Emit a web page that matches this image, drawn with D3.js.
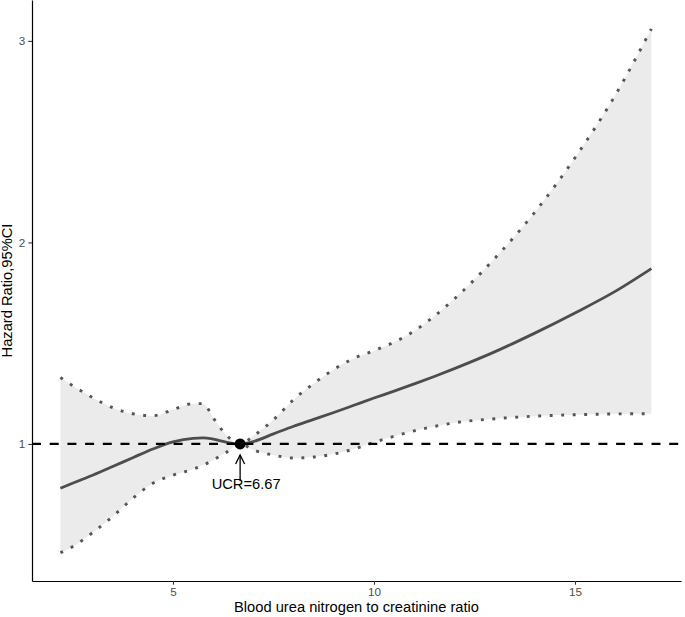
<!DOCTYPE html>
<html>
<head>
<meta charset="utf-8">
<script src="https://cdn.jsdelivr.net/npm/d3@7"></script>
<style>
  body { margin: 0; background: #fff; }
  text { font-family: "Liberation Sans", Arial, sans-serif; }
</style>
</head>
<body>
<div id="chart"></div>
<script>
// values
var ucr   = [2.2, 2.5, 3, 3.5, 4, 4.5, 5, 5.5, 5.75, 6, 6.3, 6.67, 7, 7.5, 8, 8.5, 9, 9.5, 10, 10.5, 11, 11.5, 12, 13, 14, 15, 16, 16.9];
var hr    = [0.78, 0.805, 0.845, 0.888, 0.932, 0.975, 1.01, 1.028, 1.03, 1.024, 1.01, 1.0, 1.012, 1.05, 1.088, 1.122, 1.156, 1.192, 1.228, 1.262, 1.298, 1.335, 1.374, 1.457, 1.55, 1.65, 1.757, 1.87];
var upper = [1.33, 1.29, 1.23, 1.18, 1.15, 1.14, 1.17, 1.20, 1.20, 1.13, 1.05, 1.0, 1.04, 1.12, 1.22, 1.30, 1.37, 1.425, 1.463, 1.505, 1.56, 1.634, 1.72, 1.92, 2.15, 2.42, 2.73, 3.06];
var lower = [0.46, 0.49, 0.56, 0.64, 0.73, 0.805, 0.845, 0.875, 0.895, 0.92, 0.955, 1.0, 0.97, 0.945, 0.93, 0.935, 0.95, 0.975, 1.008, 1.038, 1.065, 1.087, 1.105, 1.125, 1.138, 1.145, 1.149, 1.15];
var xTicks = [5, 10, 15];
var yTicks = [1, 2, 3];
var refX = 6.67;
var refY = 1;
var refLabel = "UCR=6.67";

var data = ucr.map(function(d, i) {
  return { x: d, hr: hr[i], lo: lower[i], hi: upper[i] };
});

var svgWidth = 685, svgHeight = 617;
var margin = { top: 0, right: 4, bottom: 36, left: 32 };
var width = svgWidth - margin.left - margin.right;
var height = svgHeight - margin.top - margin.bottom;

var svg = d3.select("#chart").append("svg")
  .attr("width", svgWidth)
  .attr("height", svgHeight);

var chartGroup = svg.append("g")
  .attr("transform", `translate(${margin.left}, ${margin.top})`);

var xScale = d3.scaleLinear().domain([1.493, 17.637]).range([0, width]);
var yScale = d3.scaleLinear().domain([0.32, 3.203]).range([height, 0]);

var curve = d3.curveMonotoneX;

// ribbon
var area = d3.area()
  .x(d => xScale(d.x))
  .y0(d => yScale(d.lo))
  .y1(d => yScale(d.hi))
  .curve(curve);

chartGroup.append("path")
  .datum(data)
  .attr("d", area)
  .attr("fill", "#ebebeb");

// CI bounds, dotted
["lo", "hi"].forEach(function(k) {
  chartGroup.append("path")
    .datum(data)
    .attr("d", d3.line().x(d => xScale(d.x)).y(d => yScale(d[k])).curve(curve))
    .attr("fill", "none")
    .attr("stroke", "#555555")
    .attr("stroke-width", 2.9)
    .attr("stroke-dasharray", "2.9,8.6");
});

// hazard ratio line
chartGroup.append("path")
  .datum(data)
  .attr("d", d3.line().x(d => xScale(d.x)).y(d => yScale(d.hr)).curve(curve))
  .attr("fill", "none")
  .attr("stroke", "#4d4d4d")
  .attr("stroke-width", 2.8);

// reference line at HR = 1
chartGroup.append("line")
  .attr("x1", 0).attr("x2", width)
  .attr("y1", yScale(refY)).attr("y2", yScale(refY))
  .attr("stroke", "#000")
  .attr("stroke-width", 2.2)
  .attr("stroke-dasharray", "9,8.7");

// reference point + arrow + label
var px = xScale(refX), py = yScale(refY);
chartGroup.append("circle")
  .attr("cx", px).attr("cy", py)
  .attr("r", 5.5)
  .attr("fill", "#000");

chartGroup.append("line")
  .attr("x1", px).attr("x2", px)
  .attr("y1", py + 11).attr("y2", py + 37)
  .attr("stroke", "#000")
  .attr("stroke-width", 1.3);

chartGroup.append("path")
  .attr("d", `M${px - 4.5},${py + 20} L${px},${py + 11} L${px + 4.5},${py + 20}`)
  .attr("fill", "none")
  .attr("stroke", "#000")
  .attr("stroke-width", 1.3);

chartGroup.append("text")
  .attr("x", px + 6)
  .attr("y", py + 45)
  .style("text-anchor", "middle")
  .style("font-size", "14.7px")
  .attr("fill", "#000")
  .text(refLabel);

// axes
var bottomAxis = d3.axisBottom(xScale).tickValues(xTicks).tickFormat(d3.format("d"))
  .tickSizeInner(3.7).tickSizeOuter(0).tickPadding(3);
var leftAxis = d3.axisLeft(yScale).tickValues(yTicks).tickFormat(d3.format("d"))
  .tickSizeInner(3.7).tickSizeOuter(0).tickPadding(3);

var xg = chartGroup.append("g")
  .attr("transform", `translate(0, ${height})`)
  .call(bottomAxis);
var yg = chartGroup.append("g").call(leftAxis);

[xg, yg].forEach(function(g) {
  g.select(".domain").attr("stroke", "#000").attr("stroke-width", 1.2);
  g.selectAll(".tick line").attr("stroke", "#333").attr("stroke-width", 1.1);
  g.selectAll(".tick text")
    .attr("fill", "#4d4d4d")
    .style("font-size", "11.7px")
    .style("font-family", "Liberation Sans, Arial, sans-serif");
});

// axis titles
chartGroup.append("text")
  .attr("x", width / 2)
  .attr("y", height + 31)
  .style("text-anchor", "middle")
  .style("font-size", "14.7px")
  .text("Blood urea nitrogen to creatinine ratio");

chartGroup.append("text")
  .attr("transform", "rotate(-90)")
  .attr("x", -height / 2)
  .attr("y", -margin.left + 12)
  .style("text-anchor", "middle")
  .style("font-size", "14.7px")
  .text("Hazard Ratio,95%CI");
</script>
</body>
</html>
